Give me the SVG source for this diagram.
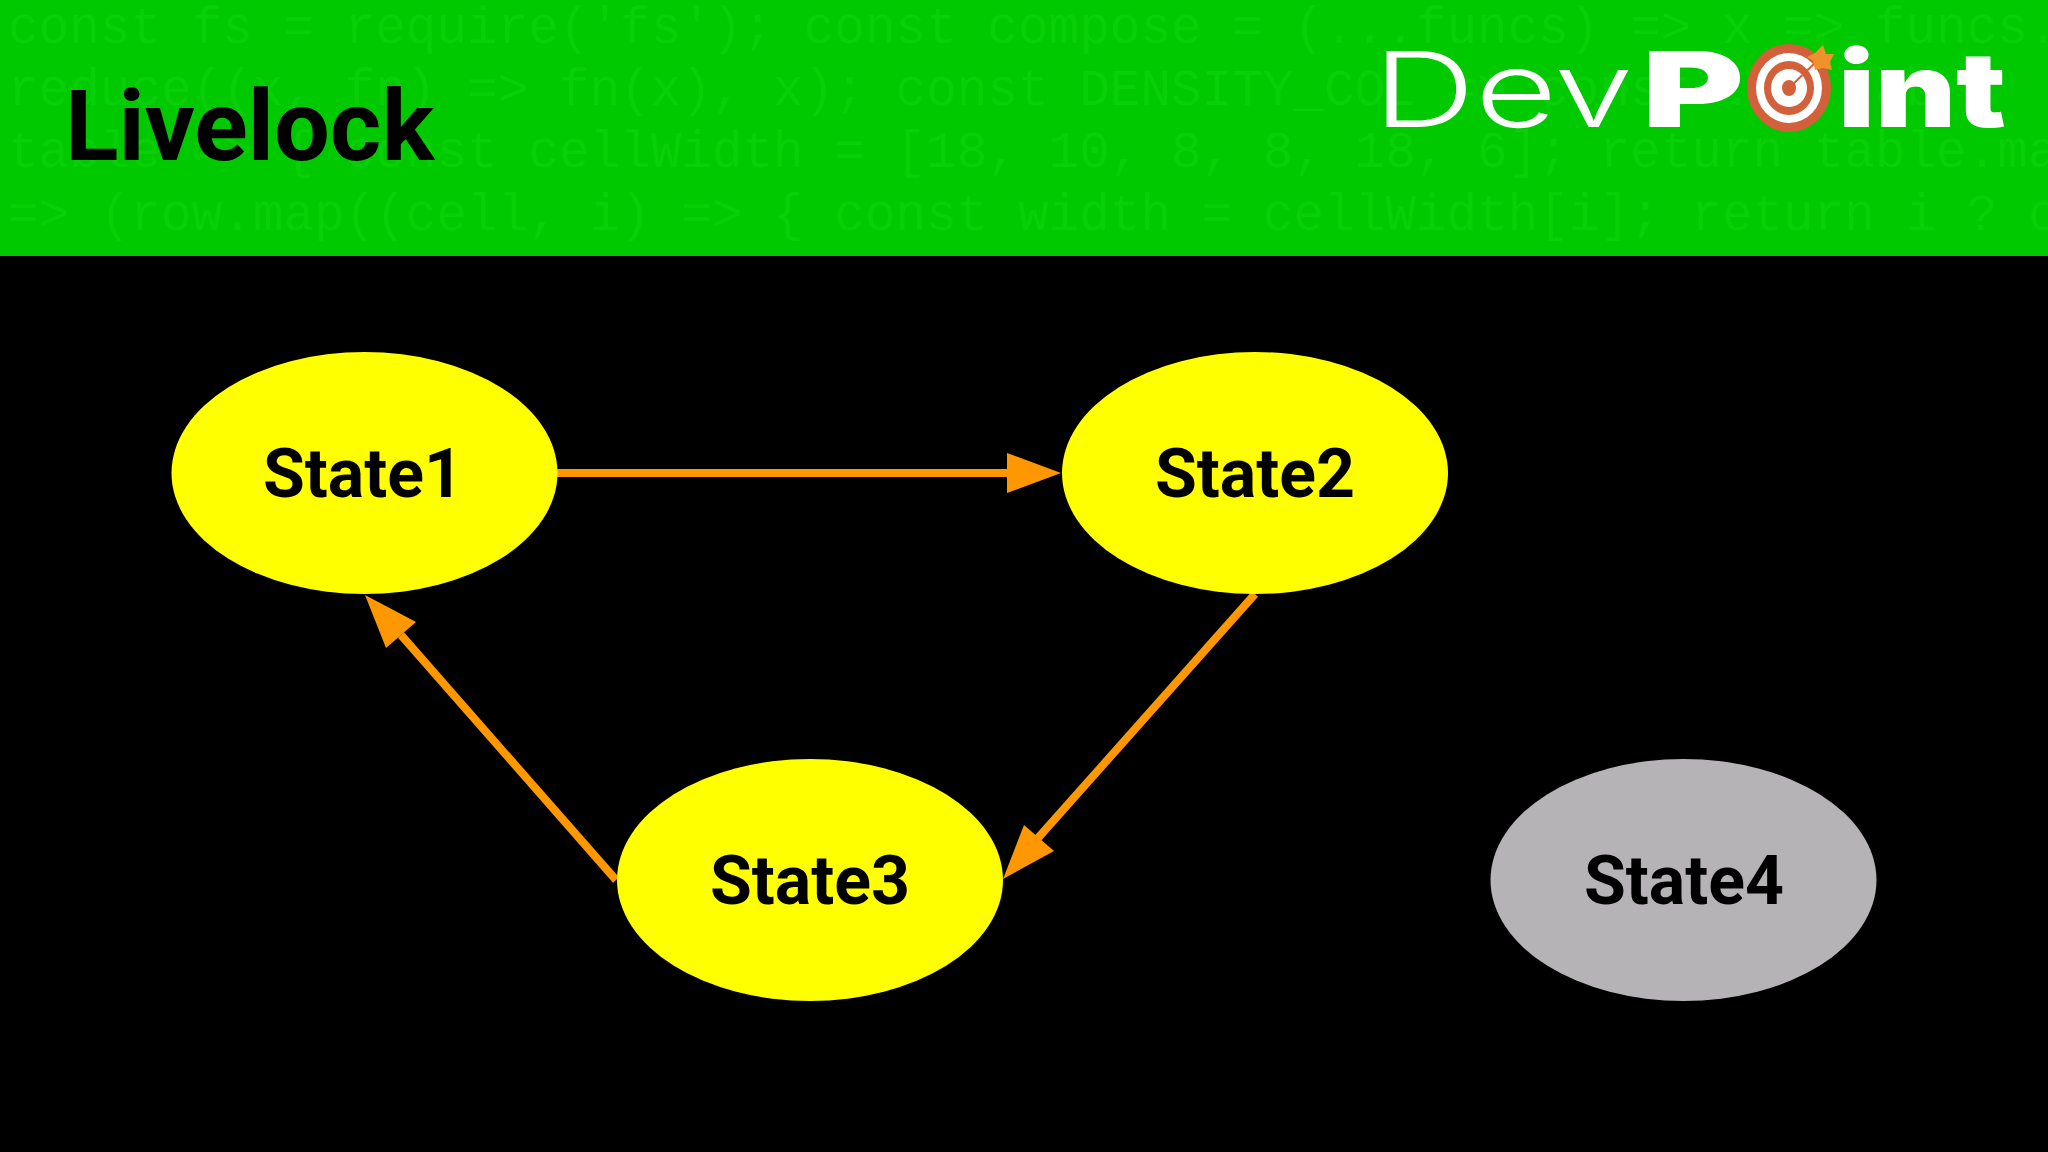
<svg xmlns="http://www.w3.org/2000/svg" width="2048" height="1152" viewBox="0 0 2048 1152">
<style>
.code{font-family:"Liberation Mono",monospace;font-size:51px;fill:#08cf08}
.lbl{font-family:Roboto,"Liberation Sans",sans-serif;font-weight:700;font-size:68px;fill:#000;text-anchor:middle}
.edge{stroke:#ff9800;stroke-width:8;fill:none}
.head{fill:#ff9800}
.y{fill:#ffff00}
.lt{font-family:Inter,"Liberation Sans",sans-serif;font-weight:300;font-size:104px;fill:#fff}
.hv{font-family:Inter,"Liberation Sans",sans-serif;font-weight:900;font-size:104px;fill:#fff}
</style>
<rect width="2048" height="1152" fill="#000"/>
<g id="banner">
<rect width="2048" height="256" fill="#00c900"/>
<text class="code" x="8" y="43" xml:space="preserve">const fs = require('fs'); const compose = (...funcs) =&gt; x =&gt; funcs.</text>
<text class="code" x="8" y="105" xml:space="preserve">reduce((x, fn) =&gt; fn(x), x); const DENSITY_COL =&gt; const ... tab</text>
<text class="code" x="8" y="167" xml:space="preserve">table =&gt; { const cellWidth = [18, 10, 8, 8, 18, 6]; return table.ma</text>
<text class="code" x="8" y="230" xml:space="preserve">=&gt; (row.map((cell, i) =&gt; { const width = cellWidth[i]; return i ? c</text>
<text x="65" y="160" font-family="Roboto,'Liberation Sans',sans-serif" font-weight="700" font-size="99" fill="#000">Livelock</text>
</g>
<g id="logo">
<text class="lt" x="1373" y="127" textLength="260" lengthAdjust="spacingAndGlyphs">Dev</text>
<text class="hv" x="1642" y="127" textLength="102" lengthAdjust="spacingAndGlyphs">P</text>
<ellipse cx="1789" cy="88" rx="42" ry="44" fill="#d2603a"/>
<ellipse cx="1789" cy="88" rx="33" ry="35" fill="#fff"/>
<ellipse cx="1789" cy="88" rx="25" ry="27" fill="#d2603a"/>
<ellipse cx="1789" cy="88" rx="18" ry="19" fill="#fff"/>
<ellipse cx="1789" cy="88" rx="7" ry="8" fill="#d2603a"/>
<path d="M1789 88L1818 60" stroke="#d2603a" stroke-width="2"/>
<path d="M1823 45l3 9 8 0-4 8 2 8-9-2-8 2-2-9-6-4 8-4z" fill="#f0922a"/>
<text class="hv" x="1838" y="127" textLength="168" lengthAdjust="spacingAndGlyphs">int</text>
</g>
<g id="connectors">
<path class="edge" d="M557 473H1010"/>
<path class="head" d="M1061 473L1007 453V493Z"/>
<path class="edge" d="M1255 594L1038 838"/>
<path class="head" d="M1003 879L1024 825L1054 851Z"/>
<path class="edge" d="M616 880L401 635"/>
<path class="head" d="M365 595L416 622L386 648Z"/>
</g>
<g id="state1"><ellipse class="y" cx="364.500" cy="473" rx="193" ry="121"/><text class="lbl" x="363" y="497">State1</text></g>
<g id="state2"><ellipse class="y" cx="1255" cy="473" rx="193" ry="121"/><text class="lbl" x="1255" y="497">State2</text></g>
<g id="state3"><ellipse class="y" cx="810" cy="880" rx="193" ry="121"/><text class="lbl" x="810" y="904">State3</text></g>
<g id="state4"><ellipse cx="1683.500" cy="880" rx="193" ry="121" fill="#b5b3b6"/><text class="lbl" x="1684" y="904">State4</text></g>
</svg>
